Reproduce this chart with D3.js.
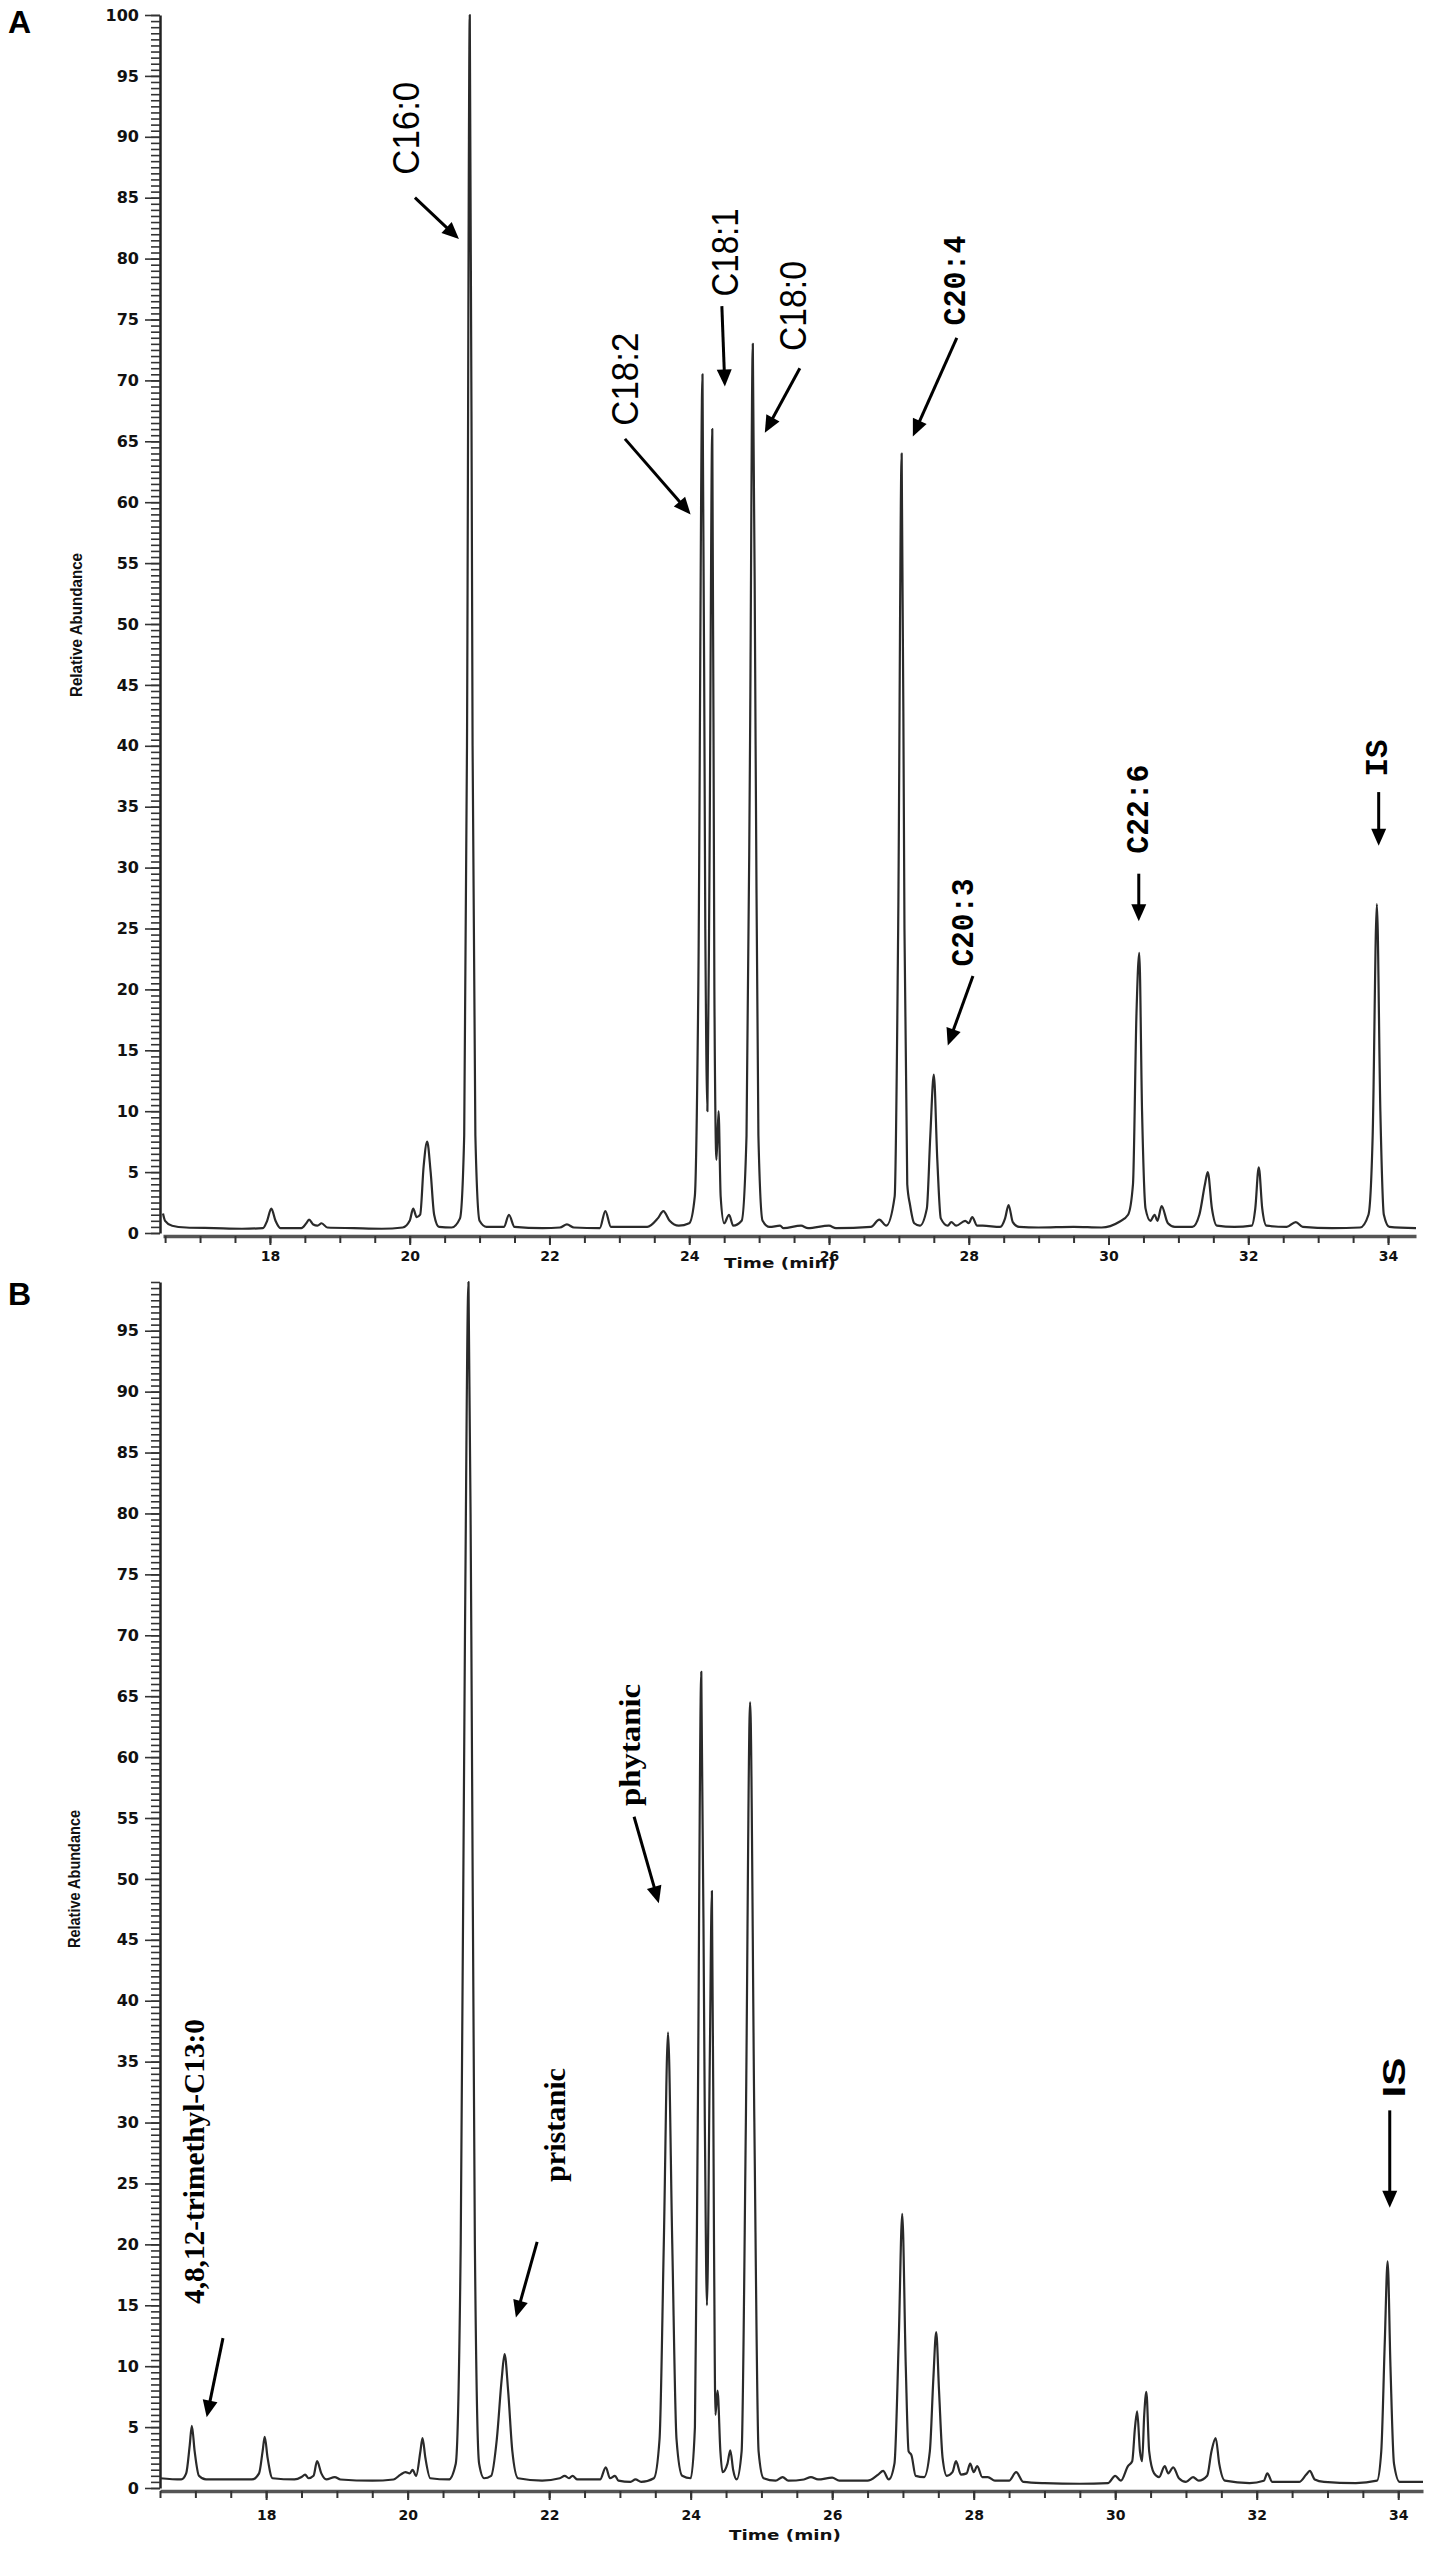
<!DOCTYPE html>
<html><head><meta charset="utf-8">
<script src="https://cdn.jsdelivr.net/npm/d3@7/dist/d3.min.js"></script>
<style>body{margin:0;background:#fff}</style>
</head><body>
<svg id="c" width="1438" height="2552"></svg>
<script>
// ---------- DATA ----------
// Panel A chromatogram trace: [time (min), relative abundance]
const traceA = [
[16.47,1.6],[16.5,1.0],[16.6,0.6],[16.8,0.45],[17.2,0.4],[17.6,0.35],[17.9,0.4],
[17.96,1.0],[18.02,2.0],[18.08,1.0],[18.15,0.4],
[18.45,0.4],[18.52,0.8],[18.56,1.1],[18.62,0.7],[18.68,0.6],[18.74,0.8],[18.82,0.45],
[19.2,0.4],[19.6,0.35],[19.9,0.45],[20.0,1.0],[20.05,2.0],[20.1,1.3],[20.15,1.5],[20.2,5.5],[20.25,7.5],[20.3,5.0],[20.35,1.5],[20.42,0.5],
[20.6,0.45],[20.72,1.2],[20.78,8],[20.82,40],[20.86,100],[20.9,40],[20.94,8],[21.0,1.0],[21.1,0.5],
[21.35,0.5],[21.42,1.5],[21.5,0.5],
[21.9,0.4],[22.15,0.45],[22.25,0.7],[22.35,0.45],
[22.72,0.4],[22.8,1.8],[22.88,0.5],
[23.4,0.5],[23.55,1.2],[23.63,1.8],[23.72,1.0],[23.85,0.6],[24.0,0.8],
[24.08,3],[24.13,20],[24.19,70.5],[24.23,25],[24.26,10],[24.29,30],[24.33,66],[24.36,20],[24.39,6],[24.42,10],[24.45,3],[24.5,0.8],[24.57,1.5],[24.63,0.6],
[24.75,1.0],[24.82,8],[24.87,40],[24.91,73],[24.95,40],[24.99,8],[25.05,1.0],[25.15,0.5],
[25.3,0.6],[25.35,0.4],[25.6,0.6],[25.7,0.4],[26.0,0.6],[26.1,0.4],
[26.6,0.5],[26.72,1.1],[26.82,0.6],
[26.94,3],[26.99,25],[27.04,64],[27.08,25],[27.12,4],[27.16,2.3],[27.22,0.8],
[27.3,0.6],[27.4,2],[27.45,8],[27.5,13],[27.55,6],[27.6,1.2],[27.7,0.6],[27.75,0.9],[27.82,0.6],[27.95,1.0],[28.0,0.8],[28.05,1.3],[28.12,0.6],[28.2,0.6],
[28.45,0.5],[28.52,1.2],[28.57,2.3],[28.63,0.9],[28.72,0.5],
[29.0,0.45],[29.5,0.5],[29.9,0.45],
[30.15,0.9],[30.28,1.5],[30.35,4],[30.4,18],[30.44,23],[30.48,10],[30.53,2],[30.6,1.0],[30.66,1.5],[30.7,1.0],[30.76,2.2],[30.85,0.8],[30.95,0.5],
[31.2,0.5],[31.3,1.5],[31.38,4],[31.42,5.0],[31.48,2],[31.55,0.6],
[31.8,0.5],[32.05,0.6],[32.1,2],[32.15,5.4],[32.2,2],[32.26,0.6],
[32.55,0.5],[32.68,0.9],[32.78,0.5],
[33.2,0.4],[33.6,0.45],[33.72,1.5],[33.78,8],[33.84,27],[33.89,10],[33.94,1.5],[34.02,0.5],[34.4,0.4]
];
// Panel B chromatogram trace
const traceB = [
[16.5,0.8],[16.8,0.7],[16.87,1.2],[16.92,3.5],[16.95,5.1],[16.99,3],[17.05,1.0],[17.15,0.7],
[17.8,0.7],[17.9,1.2],[17.95,3],[17.98,4.2],[18.02,2.5],[18.09,0.8],
[18.4,0.7],[18.5,0.9],[18.55,1.1],[18.6,0.8],[18.67,1.0],[18.72,2.2],[18.78,1.2],[18.85,0.7],[18.97,0.9],[19.05,0.7],
[19.5,0.6],[19.8,0.7],[19.9,1.1],[19.97,1.3],[20.03,1.2],[20.07,1.5],[20.12,1.0],[20.18,3],[20.21,4.1],[20.25,2.5],[20.32,0.8],
[20.58,0.7],[20.68,2],[20.75,20],[20.81,70],[20.86,99],[20.9,70],[20.95,20],[21.01,2],[21.08,0.8],
[21.18,1],[21.26,4],[21.33,9],[21.37,11],[21.42,8],[21.48,3],[21.56,0.8],
[21.9,0.6],[22.15,0.8],[22.22,1.0],[22.28,0.8],[22.33,1.0],[22.4,0.7],
[22.72,0.7],[22.8,1.7],[22.86,0.8],[22.93,1.0],[22.98,0.6],
[23.15,0.5],[23.22,0.7],[23.3,0.5],
[23.48,0.8],[23.56,4],[23.62,20],[23.68,37.4],[23.74,20],[23.8,4],[23.88,1],[24.0,0.8],
[24.06,5],[24.1,30],[24.15,67],[24.2,30],[24.23,15],[24.27,35],[24.3,49],[24.33,20],[24.35,6],[24.38,8],[24.42,3],[24.45,1.3],[24.52,2],[24.56,3.1],[24.6,1.5],[24.65,0.7],
[24.72,3],[24.78,30],[24.84,64.5],[24.9,30],[24.96,3],[25.03,0.8],
[25.2,0.6],[25.3,0.9],[25.38,0.6],[25.6,0.7],[25.7,0.9],[25.8,0.7],[26.0,0.85],[26.1,0.6],
[26.5,0.6],[26.65,1.1],[26.72,1.4],[26.8,0.7],
[26.88,2],[26.94,12],[26.99,22.5],[27.04,10],[27.08,3],[27.12,2.7],[27.18,1.0],
[27.3,0.9],[27.38,3],[27.43,9],[27.47,12.8],[27.51,8],[27.56,2.5],[27.62,1.0],
[27.7,1.3],[27.75,2.2],[27.82,1.1],[27.9,1.2],[27.95,2.0],[28.0,1.3],[28.05,1.8],[28.12,0.9],[28.2,0.9],[28.3,0.6],
[28.5,0.6],[28.6,1.3],[28.7,0.5],
[29.0,0.4],[29.5,0.35],[29.9,0.4],[30.0,1.0],[30.08,0.6],[30.18,1.8],[30.24,2.2],[30.28,5],[30.31,6.3],[30.35,3],[30.38,2.2],[30.41,6],[30.44,7.9],[30.48,3],[30.55,1.2],
[30.62,0.9],[30.7,1.8],[30.75,1.2],[30.82,1.7],[30.9,0.8],[31.0,0.5],[31.1,0.9],[31.18,0.6],
[31.3,1.0],[31.36,3],[31.42,4.1],[31.47,2],[31.55,0.6],
[31.9,0.4],[32.1,0.6],[32.15,1.2],[32.22,0.5],
[32.6,0.5],[32.7,1.1],[32.75,1.4],[32.82,0.7],[32.95,0.5],
[33.4,0.4],[33.7,0.6],[33.76,3],[33.81,12],[33.85,18.6],[33.89,10],[33.94,2],[34.02,0.5],[34.35,0.5]
];
const yTickLabelsA = [0,5,10,15,20,25,30,35,40,45,50,55,60,65,70,75,80,85,90,95,100];
const yTickLabelsB = [0,5,10,15,20,25,30,35,40,45,50,55,60,65,70,75,80,85,90,95];
const xTickLabels = [18,20,22,24,26,28,30,32,34];
// Peak annotations: text, label centre (time, abundance), arrow start -> arrow tip (time, abundance)
const annA = [
 {text:"C16:0", font:"sans", lt:19.96, lv:90.7, a:[20.075,85.0,20.705,81.6], len:93},
 {text:"C18:2", font:"sans", lt:23.094, lv:70.1, a:[23.08,65.2,24.02,59.0], len:93},
 {text:"C18:1", font:"sans", lt:24.524, lv:80.5, a:[24.467,76.1,24.51,69.5], len:88},
 {text:"C18:0", font:"sans", lt:25.497, lv:76.1, a:[25.583,71.0,25.082,65.7], len:90},
 {text:"C20:4", font:"mono", lt:27.829, lv:78.2, a:[27.829,73.5,27.2,65.4], len:90},
 {text:"C20:3", font:"mono", lt:27.94, lv:25.5, a:[28.06,21.1,27.70,15.4], len:88},
 {text:"C22:6", font:"mono", lt:30.447, lv:34.8, a:[30.433,29.5,30.433,25.6], len:89},
 {text:"IS", font:"mono", lt:33.866, lv:39.0, a:[33.866,36.2,33.866,31.8], len:37}
];
const annB = [
 {text:"4,8,12-trimethyl-C13:0", font:"serif", lt:16.97, lv:26.8, a:[17.39,12.3,17.16,5.8], len:285},
 {text:"pristanic", font:"serif", lt:22.08, lv:29.8, a:[21.83,20.2,21.53,14.0], len:114},
 {text:"phytanic", font:"serif", lt:23.14, lv:61.0, a:[23.2,55.1,23.55,48.0], len:122},
 {text:"IS", font:"sansb", lt:33.94, lv:33.7, a:[33.88,31.0,33.88,23.0], len:40}
];

// ---------- LAYOUT ----------
const svg = d3.select("#c");
const fonts = {
  sans: {family:"'Liberation Sans', Arial, sans-serif", weight:"normal", size:36},
  mono: {family:"'Liberation Mono', 'Courier New', monospace", weight:"bold", size:32},
  serif:{family:"'Liberation Serif', 'Times New Roman', serif", weight:"bold", size:30},
  sansb:{family:"'Liberation Sans', Arial, sans-serif", weight:"bold", size:32}
};

function drawPanel(cfg) {
  const x = d3.scaleLinear().domain(cfg.xDomain).range(cfg.xRange);
  const y = d3.scaleLinear().domain(cfg.yDomain).range(cfg.yRange);
  const g = svg.append("g");
  const y0 = y(0);

  g.append("text").attr("x", 8).attr("y", cfg.letterY).text(cfg.letter)
    .attr("font-family","'Liberation Sans', Arial, sans-serif").attr("font-weight","bold")
    .attr("font-size", 32).attr("fill","#000");

  const minorY = d3.range(0, cfg.yDomain[1] + 0.001, 0.5);
  g.append("g").attr("transform", `translate(${cfg.axisX},0)`)
    .call(d3.axisLeft(y).tickValues(minorY).tickSize(9).tickSizeOuter(0).tickFormat(""))
    .call(s => s.select(".domain").attr("stroke","#222").attr("stroke-width",2.5))
    .call(s => s.selectAll(".tick line").attr("stroke","#333").attr("stroke-width",1.6));
  g.append("g").attr("transform", `translate(${cfg.axisX},0)`)
    .call(d3.axisLeft(y).tickValues(cfg.yLabels).tickSize(15).tickPadding(6).tickSizeOuter(0))
    .call(s => s.select(".domain").remove())
    .call(s => s.selectAll(".tick line").attr("stroke","#333").attr("stroke-width",1.6))
    .call(s => s.selectAll(".tick text").attr("font-family","'DejaVu Sans', sans-serif")
        .attr("font-weight","bold").attr("font-size",16).attr("fill","#111"));

  g.append("text").text("Relative Abundance")
    .attr("transform", `translate(${cfg.yTitleX},${cfg.yTitleY}) rotate(-90)`)
    .attr("text-anchor","middle").attr("dominant-baseline","central")
    .attr("font-family","'Liberation Sans', Arial, sans-serif").attr("font-weight","bold")
    .attr("font-size",17).attr("textLength", cfg.yTitleLen).attr("lengthAdjust","spacingAndGlyphs")
    .attr("fill","#111");

  const axisY = y0 + 3;
  const minorX = d3.range(Math.ceil(cfg.xDomain[0]*2)/2, cfg.xDomain[1] + 0.001, 0.5);
  g.append("g").attr("transform", `translate(0,${axisY})`)
    .call(d3.axisBottom(x).tickValues(minorX).tickSize(7).tickSizeOuter(0).tickFormat(""))
    .call(s => s.select(".domain").attr("stroke","#555").attr("stroke-width",3.5))
    .call(s => s.selectAll(".tick line").attr("stroke","#333").attr("stroke-width",2));
  g.append("g").attr("transform", `translate(0,${axisY})`)
    .call(d3.axisBottom(x).tickValues(xTickLabels).tickSize(9).tickPadding(cfg.xPad).tickSizeOuter(0).tickFormat(d3.format("d")))
    .call(s => s.select(".domain").remove())
    .call(s => s.selectAll(".tick line").attr("stroke","#333").attr("stroke-width",2))
    .call(s => s.selectAll(".tick text").attr("font-family","'DejaVu Sans', sans-serif")
        .attr("font-weight","bold").attr("font-size",14).attr("fill","#111"));
  g.append("text").text("Time (min)")
    .attr("x", cfg.xTitleX).attr("y", cfg.xTitleY).attr("text-anchor","middle")
    .attr("font-family","'DejaVu Sans', sans-serif").attr("font-weight","bold")
    .attr("font-size",14).attr("textLength",112).attr("lengthAdjust","spacingAndGlyphs").attr("fill","#111");

  const line = d3.line().x(d => x(d[0])).y(d => y(d[1])).curve(d3.curveMonotoneX);
  g.append("path").datum(cfg.trace).attr("d", line)
    .attr("fill","none").attr("stroke","#2a2a2a").attr("stroke-width",2.2).attr("stroke-linejoin","round");

  cfg.ann.forEach(a => {
    const f = fonts[a.font];
    g.append("text").text(a.text)
      .attr("transform", `translate(${x(a.lt)},${y(a.lv)}) rotate(-90)`)
      .attr("text-anchor","middle").attr("dominant-baseline","central")
      .attr("font-family", f.family).attr("font-weight", f.weight).attr("font-size", f.size)
      .attr("textLength", a.len).attr("lengthAdjust","spacingAndGlyphs").attr("fill","#000");
    const x1 = x(a.a[0]), y1 = y(a.a[1]), x2 = x(a.a[2]), y2 = y(a.a[3]);
    const dx = x2 - x1, dy = y2 - y1, L = Math.hypot(dx, dy), ux = dx / L, uy = dy / L;
    const hl = 17, hw = 7.5;
    const bx = x2 - ux * hl, by = y2 - uy * hl;
    g.append("line").attr("x1", x1).attr("y1", y1).attr("x2", bx + ux*2).attr("y2", by + uy*2)
      .attr("stroke","#000").attr("stroke-width",3);
    g.append("path").attr("d", `M${x2},${y2}L${bx - uy*hw},${by + ux*hw}L${bx + uy*hw},${by - ux*hw}Z`)
      .attr("fill","#000");
  });
}

drawPanel({
  letter:"A", letterY:33, trace:traceA, ann:annA, yLabels:yTickLabelsA,
  axisX:160, xDomain:[16.47, 34.4], xRange:[163, 1416],
  yDomain:[0, 100], yRange:[1233, 15],
  yTitleX:76, yTitleY:625, yTitleLen:144, xPad:6,
  xTitleX:780, xTitleY:1268
});
drawPanel({
  letter:"B", letterY:1305, trace:traceB, ann:annB, yLabels:yTickLabelsB,
  axisX:160, xDomain:[16.5, 34.35], xRange:[160, 1423],
  yDomain:[0, 99], yRange:[2488, 1282],
  yTitleX:74, yTitleY:1879, yTitleLen:138, xPad:10,
  xTitleX:785, xTitleY:2540
});
</script>
</body></html>
